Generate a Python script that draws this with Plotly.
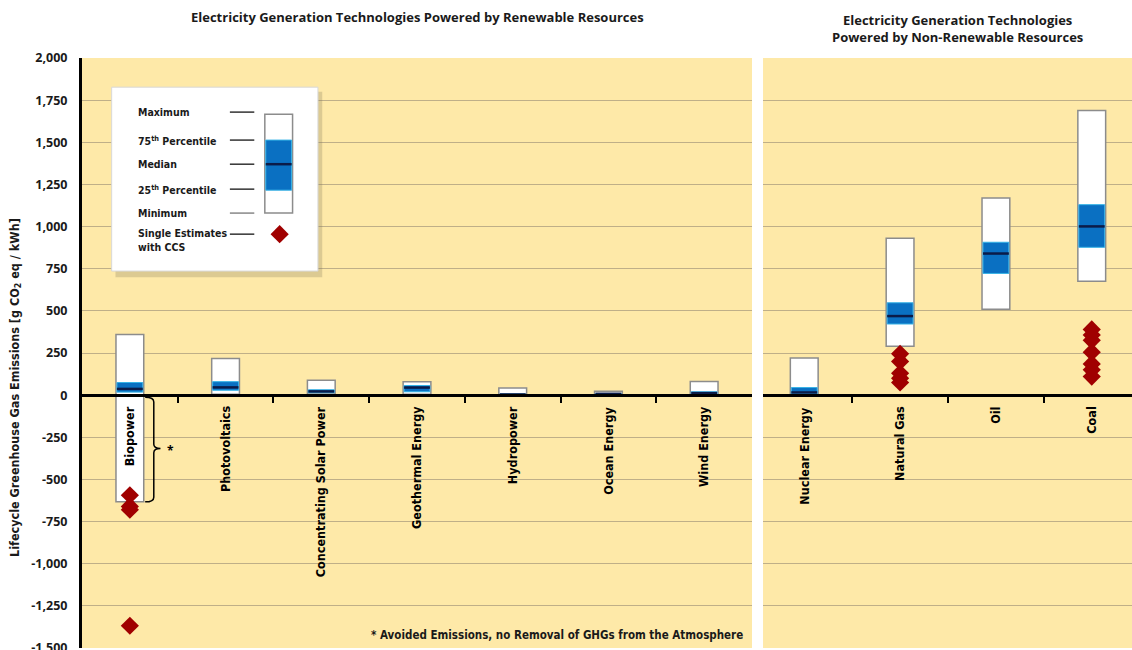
import plotly.graph_objects as go

# Lifecycle GHG emissions (g CO2eq/kWh): min, 25th, median, 75th, max
renew_names = ["Biopower", "Photovoltaics", "Concentrating Solar Power",
               "Geothermal Energy", "Hydropower", "Ocean Energy", "Wind Energy"]
renew_min = [-633, 5, 7, 6, 0, 2, 2]
renew_p25 = [18, 29, 14, 20, 3, 6, 8]
renew_med = [37, 46, 22, 45, 4, 8, 12]
renew_p75 = [75, 80, 32, 57, 7, 9, 20]
renew_max = [360, 217, 89, 79, 43, 23, 81]

nonrenew_names = ["Nuclear Energy", "Natural Gas", "Oil", "Coal"]
nonrenew_min = [1, 290, 510, 675]
nonrenew_p25 = [8, 422, 722, 877]
nonrenew_med = [16, 469, 840, 1001]
nonrenew_p75 = [45, 548, 907, 1130]
nonrenew_max = [220, 930, 1170, 1689]

# Single estimates with CCS
ccs_biopower = [-594, -660, -680, -1368]
ccs_natural_gas = [245, 200, 130, 100, 75]
ccs_coal = [390, 357, 325, 255, 185, 150, 110]

y_ticks = [2000, 1750, 1500, 1250, 1000, 750, 500, 250, 0,
           -250, -500, -750, -1000, -1250, -1500]

BG = "#FEE9A8"
GRID = "#BFAF88"
BLUE = "#0A70C2"
BLUE_EDGE = "#35B2E6"
MED = "#0B1B48"
RED = "#A00000"
COND = "Liberation Sans Narrow, DejaVu Sans Condensed, Arial Narrow, sans-serif"
BOLD = "Open Sans, Noto Sans, sans-serif"
BW = 0.29  # box width in category units

fig = go.Figure()


def add_boxes(xref, yref, mins, p25, med, p75, maxs):
    xs = list(range(len(mins)))
    fig.add_trace(go.Bar(
        x=xs, y=[hi - lo for lo, hi in zip(mins, maxs)], base=mins, width=BW,
        marker=dict(color="white", line=dict(color="#8C8C8C", width=1.5)),
        xaxis=xref, yaxis=yref, showlegend=False, hoverinfo="skip"))
    fig.add_trace(go.Bar(
        x=xs, y=[hi - lo for lo, hi in zip(p25, p75)], base=p25, width=BW - 0.02,
        marker=dict(color=BLUE, line=dict(color=BLUE_EDGE, width=1)),
        xaxis=xref, yaxis=yref, showlegend=False, hoverinfo="skip"))
    mx, my = [], []
    for i, m in enumerate(med):
        mx += [i - BW / 2 + 0.01, i + BW / 2 - 0.01, None]
        my += [m, m, None]
    fig.add_trace(go.Scatter(
        x=mx, y=my, mode="lines", line=dict(color=MED, width=2.5),
        xaxis=xref, yaxis=yref, showlegend=False, hoverinfo="skip"))


def add_ccs(xref, yref, idx, values):
    fig.add_trace(go.Scatter(
        x=[idx] * len(values), y=values, mode="markers",
        marker=dict(symbol="diamond", size=14, color=RED),
        xaxis=xref, yaxis=yref, showlegend=False, hoverinfo="skip"))


add_boxes("x", "y", renew_min, renew_p25, renew_med, renew_p75, renew_max)
add_boxes("x2", "y2", nonrenew_min, nonrenew_p25, nonrenew_med, nonrenew_p75, nonrenew_max)
add_ccs("x", "y", renew_names.index("Biopower"), ccs_biopower)
add_ccs("x2", "y2", nonrenew_names.index("Natural Gas"), ccs_natural_gas)
add_ccs("x2", "y2", nonrenew_names.index("Coal"), ccs_coal)

zero_pos = 1500 / 3500
yrange = [-1500, 2000]

fig.update_layout(
    width=1132, height=650,
    margin=dict(l=82, r=0, t=58, b=2),
    paper_bgcolor="white", plot_bgcolor=BG,
    barmode="overlay",
    showlegend=False,
    xaxis=dict(domain=[0, 0.6381], range=[-0.5, 6.5], anchor="free", position=zero_pos,
               showline=True, linecolor="black", linewidth=2.5,
               tickvals=[i + 0.5 for i in range(6)], ticks="outside", ticklen=6,
               tickwidth=2, tickcolor="black", showticklabels=False,
               showgrid=False, zeroline=False, automargin=False),
    xaxis2=dict(domain=[0.6486, 1.0], range=[-0.43, 3.42], anchor="free", position=zero_pos,
                showline=True, linecolor="black", linewidth=2.5,
                tickvals=[i + 0.5 for i in range(3)], ticks="outside", ticklen=6,
                tickwidth=2, tickcolor="black", showticklabels=False,
                showgrid=False, zeroline=False, automargin=False),
    yaxis=dict(range=yrange, anchor="x", tickvals=y_ticks,
               ticktext=[f"{v:,}" for v in y_ticks], ticks="", ticklabelstandoff=9,
               ticklabeloverflow="allow", automargin=False,
               tickfont=dict(family=BOLD, size=12.5, color="#1a1a1a", weight="bold"),
               showgrid=True, gridcolor=GRID, gridwidth=1, zeroline=False,
               showline=True, linecolor="black", linewidth=3),
    yaxis2=dict(range=yrange, anchor="x2", matches="y", tickvals=y_ticks,
                showticklabels=False, ticks="", showgrid=True, gridcolor=GRID,
                gridwidth=1, zeroline=False, showline=False, automargin=False),
)

# Category labels, rotated, hanging below the zero line
for i, name in enumerate(renew_names):
    fig.add_annotation(x=i, y=-55, xref="x", yref="y", text=name, textangle=-90,
                       xanchor="center", yanchor="top", showarrow=False,
                       font=dict(family=COND, size=12.5, color="black", weight="bold"))
for i, name in enumerate(nonrenew_names):
    fig.add_annotation(x=i, y=-55, xref="x2", yref="y2", text=name, textangle=-90,
                       xanchor="center", yanchor="top", showarrow=False,
                       font=dict(family=COND, size=12.5, color="black", weight="bold"))

# Panel titles
fig.add_annotation(x=3.0, y=1.0, xref="x", yref="paper", yshift=30,
                   text="Electricity Generation Technologies Powered by Renewable Resources",
                   showarrow=False, xanchor="center", yanchor="bottom",
                   font=dict(family=BOLD, size=13, color="#1a1a1a", weight="bold"))
fig.add_annotation(x=1.6, y=1.0, xref="x2", yref="paper", yshift=10,
                   text="Electricity Generation Technologies<br>Powered by Non-Renewable Resources",
                   showarrow=False, xanchor="center", yanchor="bottom",
                   font=dict(family=BOLD, size=13, color="#1a1a1a", weight="bold"))

# Y axis title
fig.add_annotation(x=-0.064, y=47, xref="paper", yref="y",
                   text="Lifecycle Greenhouse Gas Emissions [g CO<sub>2</sub> eq / kWh]",
                   textangle=-90, showarrow=False, xanchor="center", yanchor="middle",
                   font=dict(family=COND, size=12.5, color="#1a1a1a", weight="bold"))

# Footnote
fig.add_annotation(x=6.43, y=-1424, xref="x", yref="y",
                   text="* Avoided Emissions, no Removal of GHGs from the Atmosphere",
                   showarrow=False, xanchor="right", yanchor="middle",
                   font=dict(family=COND, size=11.5, color="#1a1a1a", weight="bold"))

# Brace next to Biopower marking the avoided-emission range
bio_min = renew_min[0]
mid = bio_min / 2
fig.add_shape(type="path", xref="x", yref="y",
              path=(f"M 0.16,-12 Q 0.25,-12 0.25,-40 L 0.25,{mid + 25} "
                    f"Q 0.25,{mid} 0.32,{mid} Q 0.25,{mid} 0.25,{mid - 25} "
                    f"L 0.25,{bio_min + 28} Q 0.25,{bio_min} 0.16,{bio_min}"),
              line=dict(color="black", width=1.5))
fig.add_annotation(x=0.42, y=mid - 12, xref="x", yref="y", text="*", showarrow=False,
                   font=dict(family=BOLD, size=12, color="black", weight="bold"))

# Key box explaining the box symbols (drawn over gridlines, under markers)
fig.add_shape(type="rect", xref="x", yref="y", x0=-0.15, x1=2.01, y0=700, y1=1800,
              fillcolor="rgba(120,110,80,0.25)", line=dict(width=0), layer="between")
fig.add_shape(type="rect", xref="x", yref="y", x0=-0.19, x1=1.965, y0=736, y1=1827,
              fillcolor="white", line=dict(color="#d8d8d8", width=1), layer="between")
key_rows = [("Maximum", 1679), ("75<sup>th</sup> Percentile", 1513), ("Median", 1370),
            ("25<sup>th</sup> Percentile", 1222), ("Minimum", 1080),
            ("Single Estimates<br>with CCS", 918)]
for label, yv in key_rows:
    fig.add_annotation(x=0.06, y=yv, xref="x", yref="y", text=label, showarrow=False,
                       xanchor="left", yanchor="middle", align="left",
                       font=dict(family=COND, size=10.5, color="#1a1a1a", weight="bold"))
    dash_y = 955 if label.startswith("Single") else yv
    fig.add_shape(type="line", xref="x", yref="y", x0=1.045, x1=1.3, y0=dash_y, y1=dash_y,
                  line=dict(color="#333333" if label != "Minimum" else "#888888", width=1.5),
                  layer="above")
fig.add_shape(type="rect", xref="x", yref="y", x0=1.41, x1=1.7, y0=1080, y1=1667,
              fillcolor="white", line=dict(color="#8C8C8C", width=1.5), layer="above")
fig.add_shape(type="rect", xref="x", yref="y", x0=1.42, x1=1.69, y0=1216, y1=1513,
              fillcolor=BLUE, line=dict(color=BLUE_EDGE, width=1), layer="above")
fig.add_shape(type="line", xref="x", yref="y", x0=1.42, x1=1.69, y0=1370, y1=1370,
              line=dict(color=MED, width=2.5), layer="above")
fig.add_trace(go.Scatter(x=[1.565], y=[955], mode="markers", xaxis="x", yaxis="y",
                         marker=dict(symbol="diamond", size=14, color=RED),
                         showlegend=False, hoverinfo="skip"))

fig.write_html("out.html")
